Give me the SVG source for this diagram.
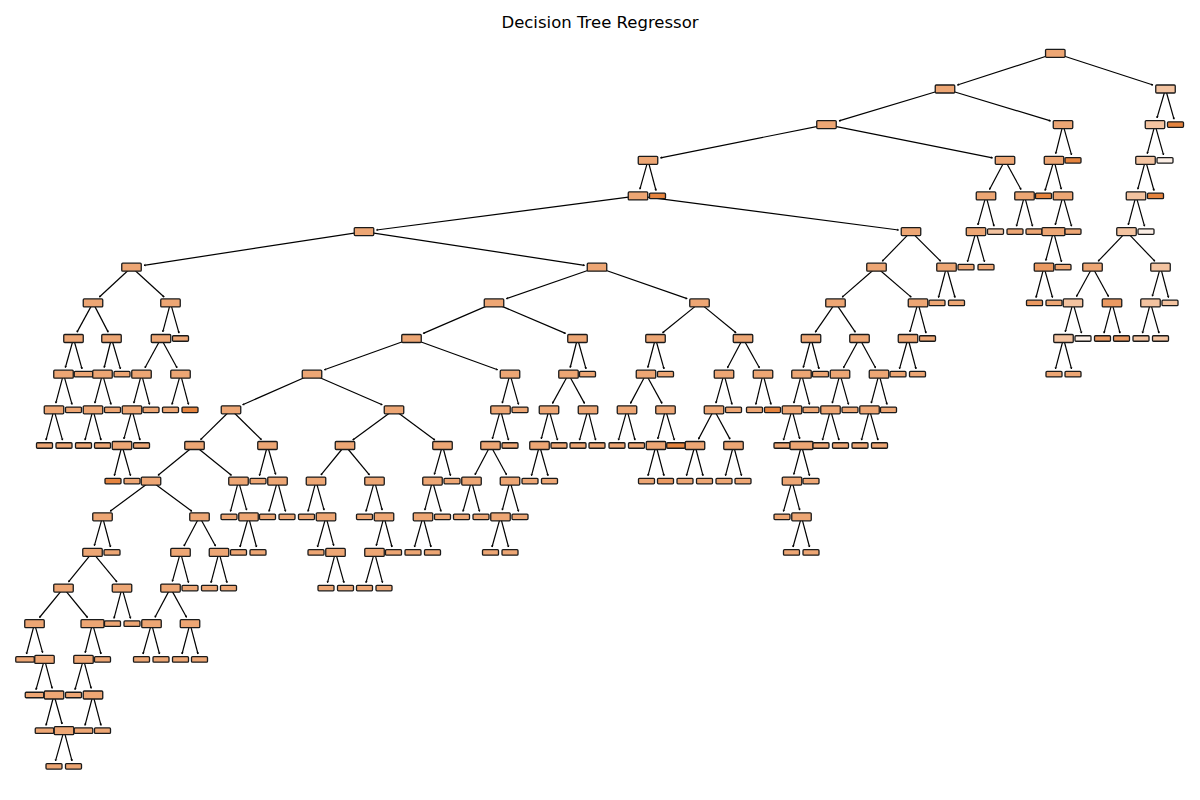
<svg xmlns="http://www.w3.org/2000/svg" width="1200" height="800" viewBox="0 0 1200 800">
<style>
  .title { font-family: "DejaVu Sans", "Liberation Sans", sans-serif; font-size: 16.5px; fill: #000; }
  #edges path { fill: none; stroke: #000; stroke-width: 1.2; marker-end: url(#ah); }
  #nodes g { stroke: #1a1a1a; stroke-width: 1.3; }
  .c0 { fill: #eda674; }
  .c1 { fill: #f3c3a0; }
  .c2 { fill: #ea9961; }
  .c3 { fill: #e5843f; }
  .c4 { fill: #fbeee5; }
</style>
<defs>
  <!-- split node box, leaf box and their wider variants, centred on (0,0) -->
  <rect id="I" x="-9.75" y="-4" width="19.5" height="8" rx="1"/>
  <rect id="IW" x="-11.5" y="-4" width="23" height="8" rx="1"/>
  <rect id="L" x="-8" y="-2.75" width="16" height="5.5" rx="1"/>
  <rect id="LW" x="-9.25" y="-2.75" width="18.5" height="5.5" rx="1"/>
  <marker id="ah" viewBox="-3 -2 4 4" refX="0" refY="0" markerWidth="4" markerHeight="4" markerUnits="userSpaceOnUse" orient="auto">
    <path d="M-1.6,-0.8L0,0L-1.6,0.8" fill="none" stroke="#000" stroke-width="0.7"/>
  </marker>
</defs>
<rect width="1200" height="800" fill="#fff"/>
<text class="title" x="600" y="28" text-anchor="middle">Decision Tree Regressor</text>

<g id="edges">
<path d="M1055.3 53.3L957.4 85"/><path d="M1055.3 53.3L1153 85"/>
<path d="M945 89L839 120.9"/><path d="M945 89L1050.5 120.9"/>
<path d="M1165.5 89L1157 117.9"/><path d="M1165.5 89L1174 119.2"/>
<path d="M826.5 124.6L660.5 157.8"/><path d="M826.5 124.6L992.5 157.8"/>
<path d="M1063 124.6L1055.7 153.6"/><path d="M1063 124.6L1071.5 154.9"/>
<path d="M1155 124.6L1147.3 153.6"/><path d="M1155 124.6L1163.5 154.9"/>
<path d="M648 160.3L639.9 189.2"/><path d="M648 160.3L656 190.5"/>
<path d="M1005 160.3L989.5 189.5"/><path d="M1005 160.3L1021 189.5"/>
<path d="M1054 160.3L1045.1 190.5"/><path d="M1054 160.3L1061.3 189.2"/>
<path d="M1145.5 160.3L1137.8 189.2"/><path d="M1145.5 160.3L1154 190.5"/>
<path d="M638 195.9L376.5 230"/><path d="M638 195.9L898.5 230"/>
<path d="M986 195.9L977.9 224.9"/><path d="M986 195.9L994 226.2"/>
<path d="M1024.5 195.9L1016.5 226.2"/><path d="M1024.5 195.9L1032.5 226.2"/>
<path d="M1063 195.9L1055.3 224.9"/><path d="M1063 195.9L1071.5 226.2"/>
<path d="M1136 195.9L1128.3 224.9"/><path d="M1136 195.9L1144.5 226.2"/>
<path d="M364 231.6L144 265.3"/><path d="M364 231.6L584.5 265.3"/>
<path d="M911 231.6L882.3 261.2"/><path d="M911 231.6L940.6 261.2"/>
<path d="M976 231.6L967.5 261.8"/><path d="M976 231.6L984.5 261.8"/>
<path d="M1053.5 231.6L1045.8 260.5"/><path d="M1053.5 231.6L1061.5 261.8"/>
<path d="M1126.5 231.6L1098.2 261.2"/><path d="M1126.5 231.6L1154.8 261.2"/>
<path d="M131.5 267.2L99.4 297"/><path d="M131.5 267.2L164.1 297"/>
<path d="M597 267.2L506.4 298.6"/><path d="M597 267.2L687.1 298.6"/>
<path d="M876.5 267.2L842.2 297.1"/><path d="M876.5 267.2L911.2 297.1"/>
<path d="M946.5 267.2L938.5 297.5"/><path d="M946.5 267.2L955 297.5"/>
<path d="M1044 267.2L1036 297.5"/><path d="M1044 267.2L1052.5 297.5"/>
<path d="M1092.5 267.2L1076.5 296.5"/><path d="M1092.5 267.2L1108.5 296.5"/>
<path d="M1160.5 267.2L1152.4 296.2"/><path d="M1160.5 267.2L1168.5 297.5"/>
<path d="M93 302.9L77 332.1"/><path d="M93 302.9L108.2 332.1"/>
<path d="M170.5 302.9L162.8 331.8"/><path d="M170.5 302.9L179 333.1"/>
<path d="M494 302.9L423.3 333.4"/><path d="M494 302.9L565.5 333.4"/>
<path d="M699.5 302.9L662.6 332.8"/><path d="M699.5 302.9L736 332.8"/>
<path d="M835.5 302.9L815.3 332.2"/><path d="M835.5 302.9L855.3 332.2"/>
<path d="M918 302.9L909.9 331.8"/><path d="M918 302.9L926 333.1"/>
<path d="M1073 302.9L1065.3 331.8"/><path d="M1073 302.9L1081.5 333.1"/>
<path d="M1112 302.9L1104 333.1"/><path d="M1112 302.9L1120 333.1"/>
<path d="M1150.5 302.9L1142.5 333.1"/><path d="M1150.5 302.9L1159 333.1"/>
<path d="M73.5 338.5L65.4 367.5"/><path d="M73.5 338.5L82 368.8"/>
<path d="M111.5 338.5L104.2 367.5"/><path d="M111.5 338.5L120.4 368.8"/>
<path d="M161 338.5L145 367.8"/><path d="M161 338.5L177 367.8"/>
<path d="M411.5 338.5L324.4 369.8"/><path d="M411.5 338.5L497.6 369.7"/>
<path d="M577.5 338.5L570.2 367.5"/><path d="M577.5 338.5L586 368.8"/>
<path d="M655.5 338.5L647.8 367.5"/><path d="M655.5 338.5L664 368.8"/>
<path d="M743 338.5L727.5 367.8"/><path d="M743 338.5L759.4 367.8"/>
<path d="M811 338.5L803.3 367.5"/><path d="M811 338.5L819 368.8"/>
<path d="M859.5 338.5L843.5 367.8"/><path d="M859.5 338.5L875.5 367.8"/>
<path d="M908 338.5L899.5 368.8"/><path d="M908 338.5L916 368.8"/>
<path d="M1063.5 338.5L1055.5 368.8"/><path d="M1063.5 338.5L1071.5 368.8"/>
<path d="M63.5 374.2L55.8 403.1"/><path d="M63.5 374.2L72 404.4"/>
<path d="M102.5 374.2L94.8 403.1"/><path d="M102.5 374.2L111 404.4"/>
<path d="M141.5 374.2L133.8 403.1"/><path d="M141.5 374.2L149.5 404.4"/>
<path d="M180.5 374.2L172 404.4"/><path d="M180.5 374.2L188.5 404.4"/>
<path d="M312 374.2L242.7 404.7"/><path d="M312 374.2L382.2 404.7"/>
<path d="M510 374.2L502.3 403.1"/><path d="M510 374.2L518.5 404.4"/>
<path d="M568.5 374.2L552.5 403.4"/><path d="M568.5 374.2L584.5 403.4"/>
<path d="M646 374.2L630.5 403.4"/><path d="M646 374.2L662 403.4"/>
<path d="M724 374.2L715.9 403.1"/><path d="M724 374.2L732 404.4"/>
<path d="M763 374.2L755.8 404.4"/><path d="M763 374.2L771 404.4"/>
<path d="M801.5 374.2L793.8 403.1"/><path d="M801.5 374.2L809.5 404.4"/>
<path d="M840 374.2L832.3 403.1"/><path d="M840 374.2L848.5 404.4"/>
<path d="M879 374.2L871.3 403.1"/><path d="M879 374.2L887 404.4"/>
<path d="M54 409.8L46 440.1"/><path d="M54 409.8L62.5 440.1"/>
<path d="M93 409.8L85 440.1"/><path d="M93 409.8L101 440.1"/>
<path d="M132 409.8L123.9 438.8"/><path d="M132 409.8L140 440.1"/>
<path d="M231 409.8L200.6 439.6"/><path d="M231 409.8L261.4 439.6"/>
<path d="M394 409.8L352.8 439.9"/><path d="M394 409.8L434.8 439.9"/>
<path d="M500.5 409.8L492.4 438.8"/><path d="M500.5 409.8L508.5 440.1"/>
<path d="M549 409.8L541.3 438.8"/><path d="M549 409.8L557.5 440.1"/>
<path d="M588 409.8L579.5 440.1"/><path d="M588 409.8L595.6 440.1"/>
<path d="M627 409.8L618.5 440.1"/><path d="M627 409.8L635 440.1"/>
<path d="M665.5 409.8L657.8 438.8"/><path d="M665.5 409.8L674.4 440.1"/>
<path d="M714 409.8L698.5 439.1"/><path d="M714 409.8L730 439.1"/>
<path d="M792 409.8L783.5 440.1"/><path d="M792 409.8L799.7 438.8"/>
<path d="M830.5 409.8L822.5 440.1"/><path d="M830.5 409.8L839 440.1"/>
<path d="M869.5 409.8L861.5 440.1"/><path d="M869.5 409.8L878 440.1"/>
<path d="M122 445.5L114.4 475.7"/><path d="M122 445.5L130.5 475.7"/>
<path d="M194.5 445.5L158.1 475.3"/><path d="M194.5 445.5L231.4 475.3"/>
<path d="M267.5 445.5L259.5 475.7"/><path d="M267.5 445.5L275.6 474.4"/>
<path d="M345 445.5L321 474.9"/><path d="M345 445.5L369.4 474.9"/>
<path d="M442.5 445.5L434.4 474.4"/><path d="M442.5 445.5L450.5 475.7"/>
<path d="M490.5 445.5L475 474.7"/><path d="M490.5 445.5L506.5 474.7"/>
<path d="M539.5 445.5L531.5 475.7"/><path d="M539.5 445.5L548 475.7"/>
<path d="M656 445.5L648 475.7"/><path d="M656 445.5L664 475.7"/>
<path d="M695 445.5L686.5 475.7"/><path d="M695 445.5L703 475.7"/>
<path d="M733.5 445.5L725.5 475.7"/><path d="M733.5 445.5L741.5 475.7"/>
<path d="M801.5 445.5L793.8 474.4"/><path d="M801.5 445.5L809.5 475.7"/>
<path d="M151 481.1L110.2 511.2"/><path d="M151 481.1L191.8 511.2"/>
<path d="M238.5 481.1L230.5 511.4"/><path d="M238.5 481.1L246.6 510.1"/>
<path d="M277.5 481.1L269 511.4"/><path d="M277.5 481.1L285.5 511.4"/>
<path d="M316 481.1L308 511.4"/><path d="M316 481.1L324.1 510.1"/>
<path d="M374.5 481.1L366 511.4"/><path d="M374.5 481.1L382.2 510.1"/>
<path d="M432.5 481.1L424.8 510.1"/><path d="M432.5 481.1L441 511.4"/>
<path d="M471.5 481.1L463 511.4"/><path d="M471.5 481.1L479.5 511.4"/>
<path d="M510 481.1L502.3 510.1"/><path d="M510 481.1L518.5 511.4"/>
<path d="M792 481.1L783.5 511.4"/><path d="M792 481.1L799.7 510.1"/>
<path d="M102.5 516.8L94.4 545.7"/><path d="M102.5 516.8L110.5 547"/>
<path d="M199.5 516.8L184 546"/><path d="M199.5 516.8L215.5 546"/>
<path d="M248.5 516.8L240 547"/><path d="M248.5 516.8L256.5 547"/>
<path d="M326 516.8L317.5 547"/><path d="M326 516.8L333.7 545.7"/>
<path d="M384 516.8L376.3 545.7"/><path d="M384 516.8L392 547"/>
<path d="M423 516.8L414.5 547"/><path d="M423 516.8L431 547"/>
<path d="M500.5 516.8L492 547"/><path d="M500.5 516.8L508.5 547"/>
<path d="M801.5 516.8L793 547"/><path d="M801.5 516.8L809.5 547"/>
<path d="M92.5 552.4L68.5 581.9"/><path d="M92.5 552.4L116.9 581.9"/>
<path d="M180.5 552.4L172.4 581.4"/><path d="M180.5 552.4L188.5 582.7"/>
<path d="M219 552.4L211 582.7"/><path d="M219 552.4L227 582.7"/>
<path d="M335.5 552.4L327.5 582.7"/><path d="M335.5 552.4L344 582.7"/>
<path d="M374.5 552.4L366 582.7"/><path d="M374.5 552.4L382.5 582.7"/>
<path d="M63.5 588.1L39.5 617.5"/><path d="M63.5 588.1L87.5 617.5"/>
<path d="M122 588.1L114 618.3"/><path d="M122 588.1L130.5 618.3"/>
<path d="M170.5 588.1L155 617.3"/><path d="M170.5 588.1L186.5 617.3"/>
<path d="M34.5 623.7L26.5 654"/><path d="M34.5 623.7L42.6 652.7"/>
<path d="M92.5 623.7L85.2 652.7"/><path d="M92.5 623.7L101 654"/>
<path d="M151.5 623.7L143 654"/><path d="M151.5 623.7L159.5 654"/>
<path d="M190 623.7L182 654"/><path d="M190 623.7L198 654"/>
<path d="M44.5 659.4L36 689.6"/><path d="M44.5 659.4L52.2 688.3"/>
<path d="M83.5 659.4L75 689.6"/><path d="M83.5 659.4L91.2 688.3"/>
<path d="M54 695L46 725.3"/><path d="M54 695L62.1 724"/>
<path d="M93 695L85 725.3"/><path d="M93 695L101 725.3"/>
<path d="M64 730.7L55.5 760.9"/><path d="M64 730.7L72 760.9"/>
</g>

<g id="nodes">
<g id="n0" class="c0"><use href="#I" x="1055.3" y="53.3"/></g>
<g id="n1" class="c0"><use href="#I" x="945" y="89"/></g>
<g id="n2" class="c1"><use href="#I" x="1165.5" y="89"/></g>
<g id="n3" class="c0"><use href="#I" x="826.5" y="124.6"/></g>
<g id="n4" class="c0"><use href="#I" x="1063" y="124.6"/></g>
<g id="n5" class="c1"><use href="#I" x="1155" y="124.6"/></g>
<g id="n6" class="c3"><use href="#L" x="1175.5" y="124.6"/></g>
<g id="n7" class="c0"><use href="#I" x="648" y="160.3"/></g>
<g id="n8" class="c0"><use href="#I" x="1005" y="160.3"/></g>
<g id="n9" class="c0"><use href="#I" x="1054" y="160.3"/></g>
<g id="n10" class="c3"><use href="#L" x="1073" y="160.3"/></g>
<g id="n11" class="c1"><use href="#I" x="1145.5" y="160.3"/></g>
<g id="n12" class="c4"><use href="#L" x="1165" y="160.3"/></g>
<g id="n13" class="c0"><use href="#I" x="638" y="195.9"/></g>
<g id="n14" class="c3"><use href="#L" x="657.5" y="195.9"/></g>
<g id="n15" class="c0"><use href="#I" x="986" y="195.9"/></g>
<g id="n16" class="c0"><use href="#I" x="1024.5" y="195.9"/></g>
<g id="n17" class="c3"><use href="#L" x="1043.5" y="195.9"/></g>
<g id="n18" class="c0"><use href="#I" x="1063" y="195.9"/></g>
<g id="n19" class="c1"><use href="#I" x="1136" y="195.9"/></g>
<g id="n20" class="c3"><use href="#L" x="1155.5" y="195.9"/></g>
<g id="n21" class="c0"><use href="#I" x="364" y="231.6"/></g>
<g id="n22" class="c0"><use href="#I" x="911" y="231.6"/></g>
<g id="n23" class="c0"><use href="#I" x="976" y="231.6"/></g>
<g id="n24" class="c1"><use href="#L" x="995.5" y="231.6"/></g>
<g id="n25" class="c0"><use href="#L" x="1015" y="231.6"/></g>
<g id="n26" class="c0"><use href="#L" x="1034" y="231.6"/></g>
<g id="n27" class="c0"><use href="#IW" x="1053.5" y="231.6"/></g>
<g id="n28" class="c0"><use href="#L" x="1073" y="231.6"/></g>
<g id="n29" class="c1"><use href="#I" x="1126.5" y="231.6"/></g>
<g id="n30" class="c4"><use href="#L" x="1146" y="231.6"/></g>
<g id="n31" class="c0"><use href="#I" x="131.5" y="267.2"/></g>
<g id="n32" class="c0"><use href="#I" x="597" y="267.2"/></g>
<g id="n33" class="c0"><use href="#I" x="876.5" y="267.2"/></g>
<g id="n34" class="c0"><use href="#I" x="946.5" y="267.2"/></g>
<g id="n35" class="c0"><use href="#L" x="966" y="267.2"/></g>
<g id="n36" class="c0"><use href="#L" x="986" y="267.2"/></g>
<g id="n37" class="c2"><use href="#I" x="1044" y="267.2"/></g>
<g id="n38" class="c0"><use href="#L" x="1063" y="267.2"/></g>
<g id="n39" class="c0"><use href="#I" x="1092.5" y="267.2"/></g>
<g id="n40" class="c1"><use href="#I" x="1160.5" y="267.2"/></g>
<g id="n41" class="c0"><use href="#I" x="93" y="302.9"/></g>
<g id="n42" class="c0"><use href="#I" x="170.5" y="302.9"/></g>
<g id="n43" class="c0"><use href="#I" x="494" y="302.9"/></g>
<g id="n44" class="c0"><use href="#I" x="699.5" y="302.9"/></g>
<g id="n45" class="c0"><use href="#I" x="835.5" y="302.9"/></g>
<g id="n46" class="c0"><use href="#I" x="918" y="302.9"/></g>
<g id="n47" class="c0"><use href="#L" x="937" y="302.9"/></g>
<g id="n48" class="c0"><use href="#L" x="956.5" y="302.9"/></g>
<g id="n49" class="c2"><use href="#L" x="1034.5" y="302.9"/></g>
<g id="n50" class="c0"><use href="#L" x="1054" y="302.9"/></g>
<g id="n51" class="c1"><use href="#I" x="1073" y="302.9"/></g>
<g id="n52" class="c2"><use href="#I" x="1112" y="302.9"/></g>
<g id="n53" class="c1"><use href="#I" x="1150.5" y="302.9"/></g>
<g id="n54" class="c1"><use href="#L" x="1170" y="302.9"/></g>
<g id="n55" class="c0"><use href="#I" x="73.5" y="338.5"/></g>
<g id="n56" class="c0"><use href="#I" x="111.5" y="338.5"/></g>
<g id="n57" class="c0"><use href="#I" x="161" y="338.5"/></g>
<g id="n58" class="c0"><use href="#L" x="180.5" y="338.5"/></g>
<g id="n59" class="c0"><use href="#I" x="411.5" y="338.5"/></g>
<g id="n60" class="c0"><use href="#I" x="577.5" y="338.5"/></g>
<g id="n61" class="c0"><use href="#I" x="655.5" y="338.5"/></g>
<g id="n62" class="c0"><use href="#I" x="743" y="338.5"/></g>
<g id="n63" class="c0"><use href="#I" x="811" y="338.5"/></g>
<g id="n64" class="c0"><use href="#I" x="859.5" y="338.5"/></g>
<g id="n65" class="c0"><use href="#I" x="908" y="338.5"/></g>
<g id="n66" class="c0"><use href="#L" x="927.5" y="338.5"/></g>
<g id="n67" class="c1"><use href="#I" x="1063.5" y="338.5"/></g>
<g id="n68" class="c4"><use href="#L" x="1083" y="338.5"/></g>
<g id="n69" class="c2"><use href="#L" x="1102.5" y="338.5"/></g>
<g id="n70" class="c2"><use href="#L" x="1121.5" y="338.5"/></g>
<g id="n71" class="c1"><use href="#L" x="1141" y="338.5"/></g>
<g id="n72" class="c1"><use href="#L" x="1160.5" y="338.5"/></g>
<g id="n73" class="c0"><use href="#I" x="63.5" y="374.2"/></g>
<g id="n74" class="c0"><use href="#LW" x="83.5" y="374.2"/></g>
<g id="n75" class="c0"><use href="#I" x="102.5" y="374.2"/></g>
<g id="n76" class="c0"><use href="#L" x="122" y="374.2"/></g>
<g id="n77" class="c0"><use href="#I" x="141.5" y="374.2"/></g>
<g id="n78" class="c0"><use href="#I" x="180.5" y="374.2"/></g>
<g id="n79" class="c0"><use href="#I" x="312" y="374.2"/></g>
<g id="n80" class="c0"><use href="#I" x="510" y="374.2"/></g>
<g id="n81" class="c0"><use href="#I" x="568.5" y="374.2"/></g>
<g id="n82" class="c0"><use href="#L" x="587.5" y="374.2"/></g>
<g id="n83" class="c0"><use href="#I" x="646" y="374.2"/></g>
<g id="n84" class="c0"><use href="#L" x="665.5" y="374.2"/></g>
<g id="n85" class="c0"><use href="#I" x="724" y="374.2"/></g>
<g id="n86" class="c0"><use href="#I" x="763" y="374.2"/></g>
<g id="n87" class="c0"><use href="#I" x="801.5" y="374.2"/></g>
<g id="n88" class="c0"><use href="#L" x="820.5" y="374.2"/></g>
<g id="n89" class="c0"><use href="#I" x="840" y="374.2"/></g>
<g id="n90" class="c0"><use href="#I" x="879" y="374.2"/></g>
<g id="n91" class="c0"><use href="#L" x="898" y="374.2"/></g>
<g id="n92" class="c0"><use href="#L" x="917.5" y="374.2"/></g>
<g id="n93" class="c0"><use href="#L" x="1054" y="374.2"/></g>
<g id="n94" class="c0"><use href="#L" x="1073" y="374.2"/></g>
<g id="n95" class="c0"><use href="#I" x="54" y="409.8"/></g>
<g id="n96" class="c0"><use href="#L" x="73.5" y="409.8"/></g>
<g id="n97" class="c0"><use href="#I" x="93" y="409.8"/></g>
<g id="n98" class="c0"><use href="#L" x="112.5" y="409.8"/></g>
<g id="n99" class="c0"><use href="#I" x="132" y="409.8"/></g>
<g id="n100" class="c0"><use href="#L" x="151" y="409.8"/></g>
<g id="n101" class="c0"><use href="#L" x="170.5" y="409.8"/></g>
<g id="n102" class="c3"><use href="#L" x="190" y="409.8"/></g>
<g id="n103" class="c0"><use href="#I" x="231" y="409.8"/></g>
<g id="n104" class="c0"><use href="#I" x="394" y="409.8"/></g>
<g id="n105" class="c0"><use href="#I" x="500.5" y="409.8"/></g>
<g id="n106" class="c0"><use href="#L" x="520" y="409.8"/></g>
<g id="n107" class="c0"><use href="#I" x="549" y="409.8"/></g>
<g id="n108" class="c0"><use href="#I" x="588" y="409.8"/></g>
<g id="n109" class="c0"><use href="#I" x="627" y="409.8"/></g>
<g id="n110" class="c0"><use href="#I" x="665.5" y="409.8"/></g>
<g id="n111" class="c0"><use href="#I" x="714" y="409.8"/></g>
<g id="n112" class="c0"><use href="#L" x="733.5" y="409.8"/></g>
<g id="n113" class="c0"><use href="#L" x="754.5" y="409.8"/></g>
<g id="n114" class="c3"><use href="#L" x="772.5" y="409.8"/></g>
<g id="n115" class="c0"><use href="#I" x="792" y="409.8"/></g>
<g id="n116" class="c0"><use href="#L" x="811" y="409.8"/></g>
<g id="n117" class="c0"><use href="#I" x="830.5" y="409.8"/></g>
<g id="n118" class="c0"><use href="#L" x="850" y="409.8"/></g>
<g id="n119" class="c0"><use href="#I" x="869.5" y="409.8"/></g>
<g id="n120" class="c0"><use href="#L" x="888.5" y="409.8"/></g>
<g id="n121" class="c0"><use href="#L" x="44.5" y="445.5"/></g>
<g id="n122" class="c0"><use href="#L" x="64" y="445.5"/></g>
<g id="n123" class="c0"><use href="#L" x="83.5" y="445.5"/></g>
<g id="n124" class="c0"><use href="#L" x="102.5" y="445.5"/></g>
<g id="n125" class="c0"><use href="#I" x="122" y="445.5"/></g>
<g id="n126" class="c0"><use href="#L" x="141.5" y="445.5"/></g>
<g id="n127" class="c0"><use href="#I" x="194.5" y="445.5"/></g>
<g id="n128" class="c0"><use href="#I" x="267.5" y="445.5"/></g>
<g id="n129" class="c0"><use href="#I" x="345" y="445.5"/></g>
<g id="n130" class="c0"><use href="#I" x="442.5" y="445.5"/></g>
<g id="n131" class="c0"><use href="#I" x="490.5" y="445.5"/></g>
<g id="n132" class="c0"><use href="#L" x="510" y="445.5"/></g>
<g id="n133" class="c0"><use href="#I" x="539.5" y="445.5"/></g>
<g id="n134" class="c0"><use href="#L" x="559" y="445.5"/></g>
<g id="n135" class="c0"><use href="#L" x="578" y="445.5"/></g>
<g id="n136" class="c0"><use href="#L" x="597" y="445.5"/></g>
<g id="n137" class="c0"><use href="#L" x="617" y="445.5"/></g>
<g id="n138" class="c0"><use href="#L" x="636.5" y="445.5"/></g>
<g id="n139" class="c0"><use href="#I" x="656" y="445.5"/></g>
<g id="n140" class="c3"><use href="#LW" x="676" y="445.5"/></g>
<g id="n141" class="c0"><use href="#I" x="695" y="445.5"/></g>
<g id="n142" class="c0"><use href="#I" x="733.5" y="445.5"/></g>
<g id="n143" class="c0"><use href="#L" x="782" y="445.5"/></g>
<g id="n144" class="c0"><use href="#IW" x="801.5" y="445.5"/></g>
<g id="n145" class="c0"><use href="#L" x="821" y="445.5"/></g>
<g id="n146" class="c0"><use href="#L" x="840.5" y="445.5"/></g>
<g id="n147" class="c0"><use href="#L" x="860" y="445.5"/></g>
<g id="n148" class="c0"><use href="#L" x="879.5" y="445.5"/></g>
<g id="n149" class="c3"><use href="#L" x="113" y="481.1"/></g>
<g id="n150" class="c0"><use href="#L" x="132" y="481.1"/></g>
<g id="n151" class="c0"><use href="#I" x="151" y="481.1"/></g>
<g id="n152" class="c0"><use href="#I" x="238.5" y="481.1"/></g>
<g id="n153" class="c0"><use href="#L" x="258" y="481.1"/></g>
<g id="n154" class="c0"><use href="#I" x="277.5" y="481.1"/></g>
<g id="n155" class="c0"><use href="#I" x="316" y="481.1"/></g>
<g id="n156" class="c0"><use href="#I" x="374.5" y="481.1"/></g>
<g id="n157" class="c0"><use href="#I" x="432.5" y="481.1"/></g>
<g id="n158" class="c0"><use href="#L" x="452" y="481.1"/></g>
<g id="n159" class="c0"><use href="#I" x="471.5" y="481.1"/></g>
<g id="n160" class="c0"><use href="#I" x="510" y="481.1"/></g>
<g id="n161" class="c0"><use href="#L" x="530" y="481.1"/></g>
<g id="n162" class="c0"><use href="#L" x="549.5" y="481.1"/></g>
<g id="n163" class="c0"><use href="#L" x="646.5" y="481.1"/></g>
<g id="n164" class="c2"><use href="#L" x="665.5" y="481.1"/></g>
<g id="n165" class="c0"><use href="#L" x="685" y="481.1"/></g>
<g id="n166" class="c0"><use href="#L" x="704.5" y="481.1"/></g>
<g id="n167" class="c0"><use href="#L" x="724" y="481.1"/></g>
<g id="n168" class="c0"><use href="#L" x="743" y="481.1"/></g>
<g id="n169" class="c0"><use href="#I" x="792" y="481.1"/></g>
<g id="n170" class="c0"><use href="#L" x="811" y="481.1"/></g>
<g id="n171" class="c0"><use href="#I" x="102.5" y="516.8"/></g>
<g id="n172" class="c0"><use href="#I" x="199.5" y="516.8"/></g>
<g id="n173" class="c0"><use href="#L" x="229" y="516.8"/></g>
<g id="n174" class="c0"><use href="#I" x="248.5" y="516.8"/></g>
<g id="n175" class="c0"><use href="#L" x="267.5" y="516.8"/></g>
<g id="n176" class="c0"><use href="#L" x="287" y="516.8"/></g>
<g id="n177" class="c0"><use href="#L" x="306.5" y="516.8"/></g>
<g id="n178" class="c0"><use href="#I" x="326" y="516.8"/></g>
<g id="n179" class="c0"><use href="#L" x="364.5" y="516.8"/></g>
<g id="n180" class="c0"><use href="#I" x="384" y="516.8"/></g>
<g id="n181" class="c0"><use href="#I" x="423" y="516.8"/></g>
<g id="n182" class="c0"><use href="#L" x="442.5" y="516.8"/></g>
<g id="n183" class="c0"><use href="#L" x="461.5" y="516.8"/></g>
<g id="n184" class="c0"><use href="#L" x="481" y="516.8"/></g>
<g id="n185" class="c0"><use href="#I" x="500.5" y="516.8"/></g>
<g id="n186" class="c0"><use href="#L" x="520" y="516.8"/></g>
<g id="n187" class="c0"><use href="#L" x="782" y="516.8"/></g>
<g id="n188" class="c0"><use href="#I" x="801.5" y="516.8"/></g>
<g id="n189" class="c0"><use href="#I" x="92.5" y="552.4"/></g>
<g id="n190" class="c0"><use href="#L" x="112" y="552.4"/></g>
<g id="n191" class="c0"><use href="#I" x="180.5" y="552.4"/></g>
<g id="n192" class="c0"><use href="#I" x="219" y="552.4"/></g>
<g id="n193" class="c0"><use href="#L" x="238.5" y="552.4"/></g>
<g id="n194" class="c0"><use href="#L" x="258" y="552.4"/></g>
<g id="n195" class="c0"><use href="#L" x="316" y="552.4"/></g>
<g id="n196" class="c0"><use href="#I" x="335.5" y="552.4"/></g>
<g id="n197" class="c0"><use href="#I" x="374.5" y="552.4"/></g>
<g id="n198" class="c0"><use href="#L" x="393.5" y="552.4"/></g>
<g id="n199" class="c0"><use href="#L" x="413" y="552.4"/></g>
<g id="n200" class="c0"><use href="#L" x="432.5" y="552.4"/></g>
<g id="n201" class="c0"><use href="#L" x="490.5" y="552.4"/></g>
<g id="n202" class="c0"><use href="#L" x="510" y="552.4"/></g>
<g id="n203" class="c0"><use href="#L" x="791.5" y="552.4"/></g>
<g id="n204" class="c0"><use href="#L" x="811" y="552.4"/></g>
<g id="n205" class="c0"><use href="#I" x="63.5" y="588.1"/></g>
<g id="n206" class="c0"><use href="#I" x="122" y="588.1"/></g>
<g id="n207" class="c0"><use href="#I" x="170.5" y="588.1"/></g>
<g id="n208" class="c0"><use href="#L" x="190" y="588.1"/></g>
<g id="n209" class="c0"><use href="#L" x="209.5" y="588.1"/></g>
<g id="n210" class="c0"><use href="#L" x="228.5" y="588.1"/></g>
<g id="n211" class="c0"><use href="#L" x="326" y="588.1"/></g>
<g id="n212" class="c0"><use href="#L" x="345.5" y="588.1"/></g>
<g id="n213" class="c0"><use href="#L" x="364.5" y="588.1"/></g>
<g id="n214" class="c0"><use href="#L" x="384" y="588.1"/></g>
<g id="n215" class="c0"><use href="#I" x="34.5" y="623.7"/></g>
<g id="n216" class="c0"><use href="#IW" x="92.5" y="623.7"/></g>
<g id="n217" class="c0"><use href="#L" x="112.5" y="623.7"/></g>
<g id="n218" class="c0"><use href="#L" x="132" y="623.7"/></g>
<g id="n219" class="c0"><use href="#I" x="151.5" y="623.7"/></g>
<g id="n220" class="c0"><use href="#I" x="190" y="623.7"/></g>
<g id="n221" class="c0"><use href="#LW" x="25" y="659.4"/></g>
<g id="n222" class="c0"><use href="#I" x="44.5" y="659.4"/></g>
<g id="n223" class="c0"><use href="#I" x="83.5" y="659.4"/></g>
<g id="n224" class="c0"><use href="#L" x="102.5" y="659.4"/></g>
<g id="n225" class="c0"><use href="#L" x="141.5" y="659.4"/></g>
<g id="n226" class="c0"><use href="#L" x="161" y="659.4"/></g>
<g id="n227" class="c0"><use href="#L" x="180.5" y="659.4"/></g>
<g id="n228" class="c0"><use href="#L" x="199.5" y="659.4"/></g>
<g id="n229" class="c0"><use href="#LW" x="34.5" y="695"/></g>
<g id="n230" class="c0"><use href="#I" x="54" y="695"/></g>
<g id="n231" class="c0"><use href="#L" x="73.5" y="695"/></g>
<g id="n232" class="c0"><use href="#I" x="93" y="695"/></g>
<g id="n233" class="c0"><use href="#LW" x="44.5" y="730.7"/></g>
<g id="n234" class="c0"><use href="#I" x="64" y="730.7"/></g>
<g id="n235" class="c0"><use href="#LW" x="83.5" y="730.7"/></g>
<g id="n236" class="c0"><use href="#L" x="102.5" y="730.7"/></g>
<g id="n237" class="c0"><use href="#L" x="54" y="766.3"/></g>
<g id="n238" class="c0"><use href="#L" x="73.5" y="766.3"/></g>
</g>
</svg>
